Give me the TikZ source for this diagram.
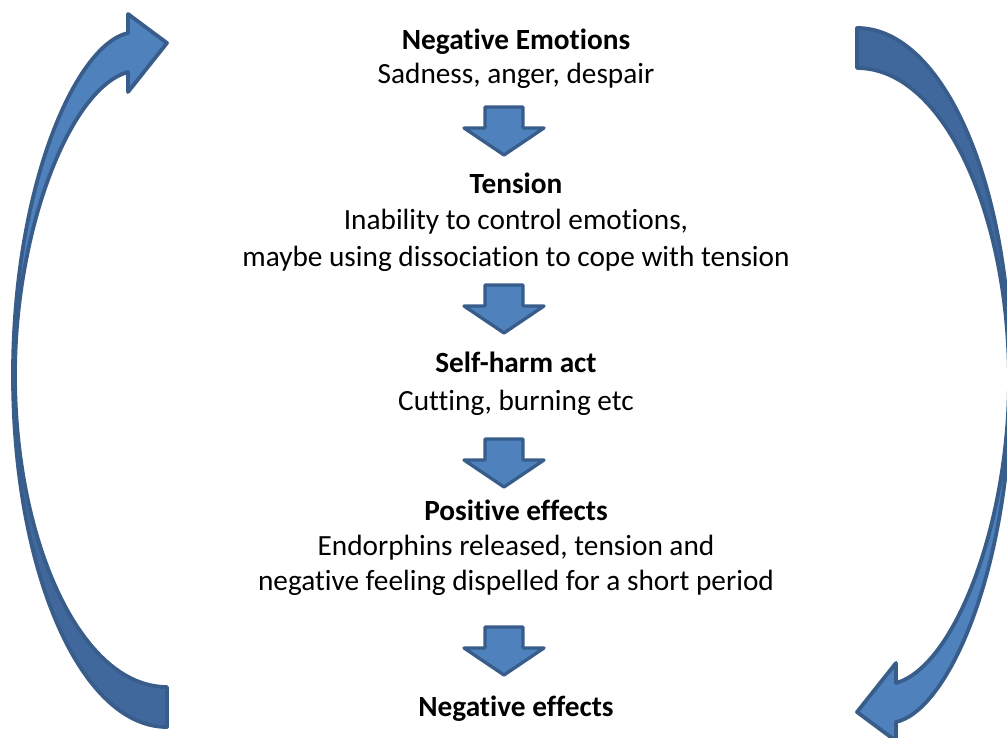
\documentclass[tikz,border=0pt]{standalone}
\usepackage{fontspec}
\setmainfont{Carlito}[RawFeature=-liga]
\definecolor{afill}{RGB}{79,129,189}
\definecolor{adark}{RGB}{64,104,156}
\definecolor{aedge}{RGB}{56,93,138}
\newcommand\cycleoutline{(167,727) .. controls (81,727) and (13,572) .. (13,375)
      .. controls (13,188) and (75,45) .. (128,33) -- (128,14) -- (167,43) -- (128,92) -- (128,72)
      .. controls (70,88) and (15,230) .. (15,375) .. controls (15,540) and (80,687) .. (167,687) -- cycle}
\newcommand\cycletail{(167,727) .. controls (81,727) and (13,572) .. (13,375) -- (15,375)
      .. controls (15,540) and (80,687) .. (167,687) -- cycle}
\tikzset{
  txt/.style={inner sep=0pt, anchor=base, font=\fontsize{29.3}{36}\selectfont},
  ttl/.style={txt, font=\fontsize{29.3}{36}\selectfont\bfseries},
  blockarrow/.style={fill=afill, draw=aedge, line width=3.3pt, line join=round},
  edgeline/.style={draw=aedge, line width=3.8pt, line join=round},
  downarr/.pic={\path[blockarrow] (-19,0) -- (19,0) -- (19,21) -- (40,21) -- (0,48) -- (-40,21) -- (-19,21) -- cycle;}
}
\begin{document}
\begin{tikzpicture}[x=1pt,y=-1pt]
\useasboundingbox (0,0) rectangle (1007,738);
% left cycle arrow
\fill[afill] \cycleoutline;
\fill[adark] \cycletail;
\draw[edgeline] \cycleoutline;
% right cycle arrow (same shape turned half round)
\begin{scope}[rotate around={180:(512,377.5)}]
\fill[afill] \cycleoutline;
\fill[adark] \cycletail;
\draw[edgeline] \cycleoutline;
\end{scope}
% texts
\node[ttl] (t1) at (516,50) {Negative Emotions};
\node[txt] (d1) at (516,84) {Sadness, anger, despair};
\node[ttl] (t2) at (516,194) {Tension};
\node[txt] (d2a) at (516,230) {Inability to control emotions,};
\node[txt] (d2b) at (516,266) {maybe using dissociation to cope with tension};
\node[ttl] (t3) at (516,372) {Self-harm act};
\node[txt] (d3) at (516,410) {Cutting, burning etc};
\node[ttl] (t4) at (516,520) {Positive effects};
\node[txt] (d4a) at (516,555) {Endorphins released, tension and};
\node[txt] (d4b) at (516,590) {negative feeling dispelled for a short period};
\node[ttl] (t5) at (516,716) {Negative effects};
% down arrows
\pic (a1) at (504,107) {downarr};
\pic (a2) at (504,285) {downarr};
\pic (a3) at (504,439) {downarr};
\pic (a4) at (504,627) {downarr};
\end{tikzpicture}
\end{document}
